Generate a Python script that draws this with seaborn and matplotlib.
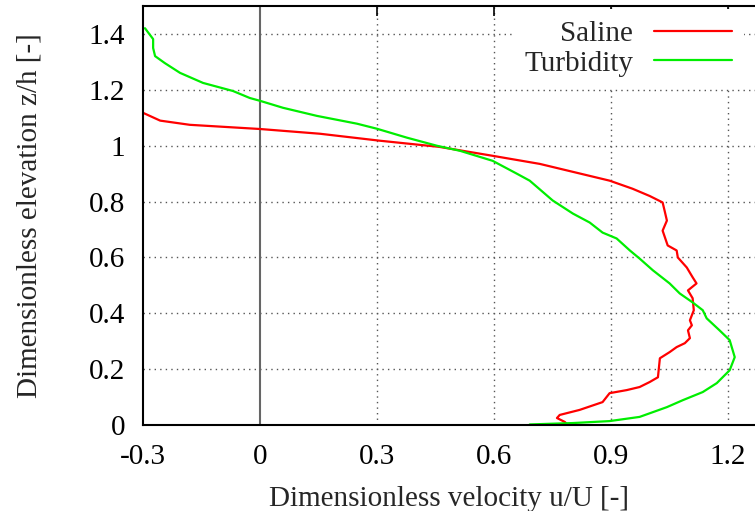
import matplotlib
matplotlib.use("Agg")
import matplotlib.pyplot as plt
import seaborn as sns

# velocity profiles (u/U, z/h)
saline_u = [-0.3, -0.256, -0.18, 0.0, 0.154, 0.308, 0.46, 0.597, 0.718, 0.897, 0.956, 1.0,
            1.033, 1.038, 1.044, 1.033, 1.046, 1.069, 1.072, 1.095, 1.11, 1.12, 1.098, 1.11,
            1.113, 1.103, 1.108, 1.098, 1.103, 1.09, 1.069, 1.051, 1.026, 1.021, 1.0, 0.974,
            0.941, 0.897, 0.879, 0.82, 0.769, 0.762, 0.782, 0.787]
saline_z = [1.118, 1.09, 1.075, 1.06, 1.043, 1.018, 0.996, 0.964, 0.935, 0.875, 0.846, 0.82,
            0.797, 0.768, 0.732, 0.696, 0.643, 0.625, 0.6, 0.564, 0.529, 0.507, 0.482, 0.454,
            0.411, 0.375, 0.357, 0.339, 0.311, 0.293, 0.279, 0.261, 0.239, 0.171, 0.154, 0.136,
            0.125, 0.114, 0.082, 0.054, 0.036, 0.025, 0.011, 0.004]

turb_u = [-0.295, -0.274, -0.274, -0.269, -0.244, -0.205, -0.146, -0.069, -0.026, 0.0, 0.059,
          0.146, 0.249, 0.3, 0.377, 0.454, 0.513, 0.597, 0.659, 0.692, 0.751, 0.803, 0.846,
          0.879, 0.915, 0.949, 0.974, 1.008, 1.051, 1.077, 1.11, 1.136, 1.146, 1.179, 1.205,
          1.218, 1.205, 1.172, 1.136, 1.085, 1.044, 0.974, 0.897, 0.803, 0.692]
turb_z = [1.421, 1.382, 1.35, 1.321, 1.296, 1.261, 1.225, 1.196, 1.171, 1.161, 1.136,
          1.107, 1.079, 1.061, 1.029, 1.0, 0.982, 0.946, 0.9, 0.875, 0.804, 0.757, 0.725,
          0.689, 0.668, 0.625, 0.596, 0.554, 0.507, 0.471, 0.439, 0.411, 0.382, 0.339, 0.304,
          0.243, 0.196, 0.15, 0.118, 0.089, 0.064, 0.029, 0.014, 0.007, 0.002]

x_ticks = [-0.3, 0, 0.3, 0.6, 0.9, 1.2]
x_labels = ["-0.3", "0", "0.3", "0.6", "0.9", "1.2"]
y_ticks = [0, 0.2, 0.4, 0.6, 0.8, 1.0, 1.2, 1.4]
y_labels = ["0", "0.2", "0.4", "0.6", "0.8", "1", "1.2", "1.4"]

sns.set_style("white")
plt.rcParams["font.family"] = ["Liberation Serif", "DejaVu Serif"]
fs = 21

fig = plt.figure(figsize=(7.55, 5.11), dpi=100)
ax = fig.add_axes([0.1894, 0.1683, 0.8106, 0.8197])

# grid (gnuplot style dotted)
for xv in [0.3, 0.6, 0.9, 1.2]:
    ax.axvline(xv, color="#555555", lw=1, ls=(0, (1, 3)), zorder=0)
for yv in y_ticks[1:]:
    ax.axhline(yv, color="#555555", lw=1, ls=(0, (1, 3)), zorder=0)
ax.axvline(0, color="#666666", lw=1.5, zorder=1)

sns.lineplot(x=saline_u, y=saline_z, sort=False, estimator=None, color="#ff0000",
             lw=1.6, ax=ax, label="Saline")
sns.lineplot(x=turb_u, y=turb_z, sort=False, estimator=None, color="#00ee00",
             lw=1.6, ax=ax, label="Turbidity")

ax.set_xlim(-0.3, 1.27)
ax.set_ylim(0, 1.5)
ax.set_xticks(x_ticks)
ax.set_xticklabels(x_labels)
ax.set_yticks(y_ticks)
ax.set_yticklabels(y_labels)
ax.tick_params(direction="in", length=7, width=1.2, labelsize=fs, colors="black",
               top=True, right=False)
ax.tick_params(axis="x", pad=14)
ax.tick_params(axis="y", pad=13)
for s in ax.spines.values():
    s.set_color("black")
    s.set_linewidth(1.5)
ax.spines["right"].set_visible(False)

ax.set_xlabel("Dimensionless velocity u/U [-]", fontsize=fs)
ax.set_ylabel("Dimensionless elevation z/h [-]", fontsize=fs)
ax.xaxis.set_label_coords(0.5, -0.145)
ax.yaxis.set_label_coords(-0.165, 0.5)

leg = ax.legend(loc="upper right", markerfirst=False, fontsize=fs, frameon=True,
                handlelength=2.7, handletextpad=0.7, labelspacing=0.1,
                borderaxespad=0.0, fancybox=False,
                bbox_to_anchor=(1 - 11 / 612, 1 - 3 / 419))
leg.get_frame().set_edgecolor("none")
leg.get_frame().set_facecolor("white")
leg.get_frame().set_alpha(1)
leg.set_zorder(2.4)  # keep frame and ticks on top
for t in leg.get_texts():
    t.set_ha("right")

fig.savefig("out.png", dpi=100)
